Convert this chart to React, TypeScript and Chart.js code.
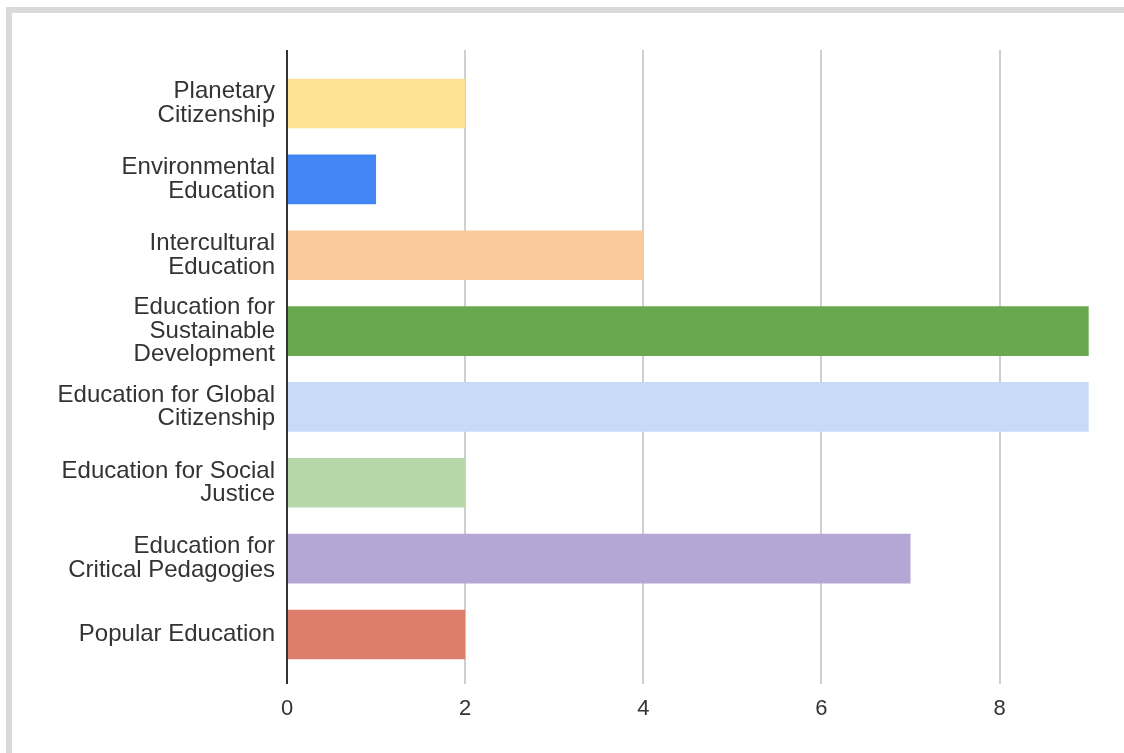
import React, { useEffect, useRef } from "react";
import { Chart, registerables } from "chart.js";

Chart.register(...registerables);

const categories: (string | string[])[] = [
  ["Planetary", "Citizenship"],
  ["Environmental", "Education"],
  ["Intercultural", "Education"],
  ["Education for", "Sustainable", "Development"],
  ["Education for Global", "Citizenship"],
  ["Education for Social", "Justice"],
  ["Education for", "Critical Pedagogies"],
  "Popular Education",
];
const values: number[] = [2, 1, 4, 9, 9, 2, 7, 2];
const barColors: string[] = [
  "#fde293",
  "#4285f4",
  "#f9cb9c",
  "#6aa84f",
  "#c9daf8",
  "#b6d7a8",
  "#b4a7d6",
  "#dd7e6b",
];
const xTicks: number[] = [0, 2, 4, 6, 8, 10];

const FONT = "'Liberation Sans', Arial, sans-serif";

const gridPlugin = {
  id: "extGrid",
  beforeDatasetsDraw(chart: any) {
    const ctx = chart.ctx;
    const xs = chart.scales.x;
    ctx.save();
    ctx.strokeStyle = "#cfcfcf";
    ctx.lineWidth = 2;
    xTicks.forEach((v) => {
      if (v === 0) return;
      const x = Math.round(xs.getPixelForValue(v));
      ctx.beginPath();
      ctx.moveTo(x, 50);
      ctx.lineTo(x, 684);
      ctx.stroke();
    });
    ctx.restore();
  },
  afterDatasetsDraw(chart: any) {
    const ctx = chart.ctx;
    const xs = chart.scales.x;
    ctx.save();
    ctx.strokeStyle = "#333333";
    ctx.lineWidth = 2;
    const x = Math.round(xs.getPixelForValue(0));
    ctx.beginPath();
    ctx.moveTo(x, 50);
    ctx.lineTo(x, 684);
    ctx.stroke();
    ctx.restore();
  },
};

export default function App() {
  const ref = useRef<HTMLCanvasElement | null>(null);
  useEffect(() => {
    if (!ref.current) return;
    const chart = new Chart(ref.current, {
      type: "bar",
      data: {
        labels: categories,
        datasets: [
          {
            data: values,
            backgroundColor: barColors,
            borderWidth: 0,
            categoryPercentage: 1,
            barPercentage: 0.655,
          },
        ],
      },
      options: {
        indexAxis: "y",
        animation: false,
        responsive: false,
        devicePixelRatio: 1,
        layout: { padding: { top: 65.6, left: 0, right: 23, bottom: 0 } },
        plugins: { legend: { display: false }, tooltip: { enabled: false } },
        scales: {
          x: {
            type: "linear",
            min: 0,
            max: 10,
            afterFit: (s: any) => {
              s.height = 80.6;
            },
            afterBuildTicks: (s: any) => {
              s.ticks = xTicks.map((v) => ({ value: v }));
            },
            grid: { display: false, drawTicks: false },
            border: { display: false },
            ticks: {
              color: "#333333",
              padding: 23,
              font: { family: FONT, size: 22 },
            },
          },
          y: {
            type: "category",
            afterFit: (s: any) => {
              s.width = 287;
            },
            grid: { display: false, drawTicks: false },
            border: { display: false },
            ticks: {
              color: "#333333",
              padding: 12,
              font: { family: FONT, size: 24, lineHeight: 0.98 },
            },
          },
        },
      },
      plugins: [gridPlugin],
    } as any);
    return () => chart.destroy();
  }, []);

  return (
    <div
      style={{
        position: "fixed",
        left: 0,
        top: 0,
        width: 1124,
        height: 753,
        overflow: "hidden",
        background: "#ffffff",
      }}
    >
      <div style={{ position: "absolute", left: 6, top: 7, right: 0, height: 6, background: "#dadada" }} />
      <div style={{ position: "absolute", left: 6, top: 7, width: 6, bottom: 0, background: "#dadada" }} />
      <canvas
        ref={ref}
        width={1213}
        height={753}
        style={{ position: "absolute", left: 0, top: 0, width: 1213, height: 753 }}
      />
    </div>
  );
}
